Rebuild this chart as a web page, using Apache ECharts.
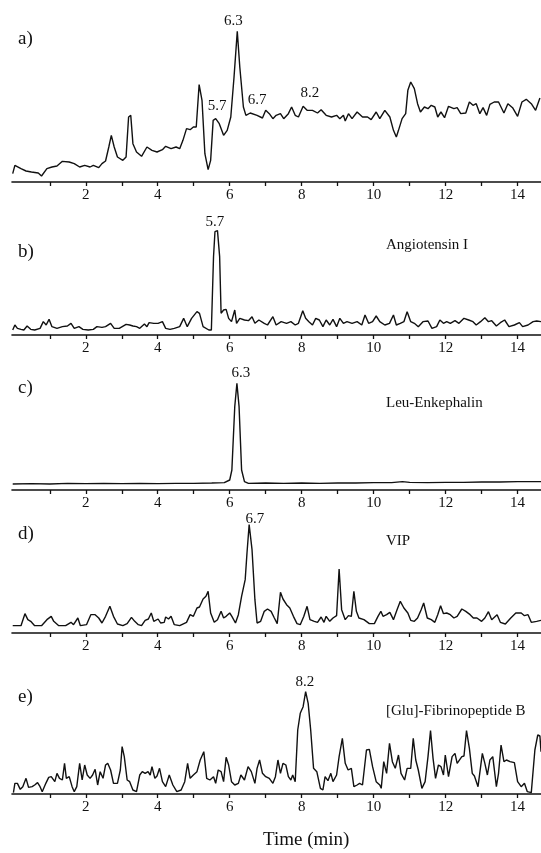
<!DOCTYPE html>
<html>
<head>
<meta charset="utf-8">
<script src="https://cdn.jsdelivr.net/npm/echarts@6/dist/echarts.min.js"></script>
<style>
html,body{margin:0;padding:0;background:#fff;}
#chart{width:541px;height:853px;}
</style>
</head>
<body>
<div id="chart"></div>
<script>
// Time (min) / intensity (arbitrary units) pairs
const panelA = [[-0.03,25],[0.03,50],[0.20,40],[0.34,33],[0.49,30],[0.68,27],[0.77,18],[0.92,40],[1.06,45],[1.20,48],[1.35,62],[1.54,60],[1.68,55],[1.83,45],[1.97,50],[2.12,45],[2.21,50],[2.36,43],[2.45,55],[2.55,63],[2.64,105],[2.71,140],[2.79,105],[2.88,75],[3.03,65],[3.12,75],[3.19,195],[3.25,200],[3.31,115],[3.41,90],[3.55,77],[3.70,105],[3.84,95],[3.98,90],[4.13,97],[4.22,107],[4.37,100],[4.51,105],[4.61,100],[4.70,125],[4.80,160],[4.90,157],[4.99,165],[5.07,165],[5.15,292],[5.23,245],[5.31,85],[5.40,37],[5.47,65],[5.54,185],[5.61,190],[5.71,175],[5.83,140],[5.93,155],[6.03,195],[6.12,315],[6.21,452],[6.28,345],[6.38,225],[6.45,200],[6.57,207],[6.76,200],[6.91,192],[7.00,215],[7.10,205],[7.20,190],[7.29,200],[7.41,205],[7.50,190],[7.63,205],[7.72,225],[7.82,200],[7.91,195],[8.04,227],[8.15,215],[8.30,215],[8.44,207],[8.54,217],[8.68,200],[8.83,195],[8.97,200],[9.06,190],[9.16,200],[9.21,183],[9.30,205],[9.40,190],[9.54,210],[9.69,195],[9.83,195],[9.93,187],[10.07,210],[10.17,190],[10.31,215],[10.45,195],[10.55,155],[10.63,135],[10.69,155],[10.79,190],[10.89,205],[10.95,275],[11.03,300],[11.13,280],[11.22,235],[11.30,210],[11.41,225],[11.51,220],[11.60,230],[11.70,225],[11.78,195],[11.87,210],[11.97,193],[12.08,227],[12.23,220],[12.32,223],[12.42,205],[12.56,207],[12.66,240],[12.76,230],[12.85,235],[12.95,205],[13.04,223],[13.14,200],[13.23,233],[13.35,240],[13.47,240],[13.62,207],[13.73,235],[13.86,223],[14.00,197],[14.12,240],[14.24,248],[14.38,235],[14.50,215],[14.62,252]];

const panelB = [[-0.03,15],[0.03,30],[0.10,20],[0.20,17],[0.28,15],[0.37,27],[0.47,17],[0.58,15],[0.73,20],[0.82,40],[0.90,30],[0.98,47],[1.06,25],[1.20,20],[1.35,25],[1.49,27],[1.59,35],[1.68,20],[1.81,25],[1.92,17],[2.07,15],[2.21,17],[2.31,25],[2.45,23],[2.55,25],[2.69,35],[2.79,20],[2.93,20],[3.12,32],[3.22,30],[3.31,27],[3.41,25],[3.50,20],[3.63,33],[3.70,25],[3.76,37],[3.89,35],[4.01,35],[4.13,40],[4.22,20],[4.34,17],[4.46,20],[4.61,25],[4.72,50],[4.82,25],[4.94,50],[5.09,70],[5.16,65],[5.26,25],[5.42,15],[5.49,15],[5.55,235],[5.59,310],[5.66,313],[5.72,235],[5.76,65],[5.83,75],[5.90,77],[5.97,50],[6.05,40],[6.14,75],[6.19,35],[6.28,50],[6.41,45],[6.52,43],[6.62,55],[6.70,35],[6.81,45],[6.96,35],[7.05,30],[7.20,55],[7.29,30],[7.43,40],[7.58,35],[7.70,40],[7.82,30],[7.91,35],[8.03,73],[8.11,50],[8.20,40],[8.30,30],[8.39,50],[8.49,45],[8.59,25],[8.68,45],[8.78,30],[8.87,47],[8.97,25],[9.06,50],[9.16,35],[9.26,40],[9.40,35],[9.54,40],[9.67,30],[9.76,60],[9.86,35],[9.97,40],[10.07,57],[10.17,40],[10.31,30],[10.44,35],[10.55,60],[10.63,30],[10.74,35],[10.84,40],[10.93,70],[11.03,40],[11.13,35],[11.24,25],[11.37,40],[11.51,42],[11.62,20],[11.75,25],[11.84,45],[11.94,35],[12.03,40],[12.13,35],[12.26,43],[12.37,35],[12.51,50],[12.64,45],[12.76,40],[12.85,30],[12.97,40],[13.09,52],[13.19,40],[13.28,43],[13.41,27],[13.52,37],[13.64,45],[13.76,25],[13.91,30],[14.05,37],[14.14,25],[14.29,30],[14.43,40],[14.53,42],[14.65,40]];

const panelC = [[-0.03,18],[0.5,19],[1.0,18],[1.5,20],[2.0,19],[2.5,20],[3.0,19],[3.5,20],[4.0,19],[4.5,20],[5.0,20],[5.5,21],[5.85,22],[6.00,30],[6.06,60],[6.14,250],[6.20,320],[6.26,250],[6.33,60],[6.41,25],[6.52,20],[7.0,21],[7.5,20],[8.0,21],[8.5,20],[9.0,21],[9.5,21],[10.0,22],[10.5,22],[10.8,25],[11.0,23],[11.5,22],[12.0,23],[12.5,23],[13.0,24],[13.5,24],[14.0,25],[14.65,25]];

const panelD = [[-0.03,22],[0.20,22],[0.31,58],[0.39,40],[0.47,35],[0.58,22],[0.77,22],[0.92,40],[1.04,50],[1.11,35],[1.25,22],[1.44,22],[1.59,32],[1.66,25],[1.78,45],[1.85,22],[2.02,25],[2.14,55],[2.26,55],[2.36,45],[2.45,30],[2.55,50],[2.67,80],[2.77,50],[2.88,27],[3.03,22],[3.15,28],[3.27,47],[3.36,35],[3.46,25],[3.55,22],[3.65,38],[3.74,42],[3.82,60],[3.89,35],[4.01,42],[4.08,30],[4.18,32],[4.22,48],[4.30,42],[4.37,50],[4.46,25],[4.61,22],[4.80,32],[4.90,55],[4.99,50],[5.09,75],[5.16,78],[5.26,102],[5.34,110],[5.40,125],[5.47,60],[5.57,32],[5.66,40],[5.76,65],[5.83,45],[5.90,50],[6.00,60],[6.06,50],[6.16,30],[6.24,55],[6.33,110],[6.43,160],[6.48,240],[6.54,325],[6.62,250],[6.70,100],[6.76,30],[6.86,35],[6.96,65],[7.05,72],[7.15,65],[7.24,45],[7.32,28],[7.41,122],[7.48,102],[7.58,85],[7.67,75],[7.77,50],[7.87,28],[7.96,25],[8.06,50],[8.15,80],[8.23,40],[8.35,35],[8.44,32],[8.54,48],[8.62,32],[8.68,50],[8.78,35],[8.87,45],[8.97,52],[9.04,192],[9.11,70],[9.21,40],[9.30,52],[9.38,50],[9.45,125],[9.52,65],[9.59,45],[9.73,40],[9.88,28],[10.02,28],[10.12,50],[10.20,65],[10.26,50],[10.36,55],[10.45,62],[10.55,40],[10.65,70],[10.74,95],[10.84,75],[10.95,60],[11.03,38],[11.13,35],[11.22,45],[11.32,70],[11.39,90],[11.49,45],[11.60,40],[11.70,32],[11.78,55],[11.86,82],[11.94,58],[12.03,60],[12.13,55],[12.23,45],[12.32,50],[12.45,72],[12.56,65],[12.68,55],[12.77,45],[12.87,45],[13.00,35],[13.09,45],[13.19,64],[13.28,40],[13.43,55],[13.52,32],[13.66,27],[13.81,45],[13.95,60],[14.10,60],[14.19,52],[14.29,55],[14.38,32],[14.53,35],[14.65,38]];

const panelE = [[-0.01,4],[0.03,32],[0.10,32],[0.18,14],[0.25,22],[0.34,47],[0.41,20],[0.51,22],[0.58,27],[0.66,34],[0.73,22],[0.79,7],[0.89,32],[0.97,50],[1.04,52],[1.14,37],[1.20,62],[1.27,47],[1.35,42],[1.41,92],[1.46,47],[1.54,52],[1.62,22],[1.68,7],[1.75,22],[1.83,92],[1.90,42],[1.97,87],[2.04,57],[2.12,47],[2.19,57],[2.26,74],[2.33,27],[2.40,67],[2.48,47],[2.55,87],[2.61,92],[2.69,72],[2.77,32],[2.88,32],[2.96,72],[3.01,142],[3.07,112],[3.15,42],[3.22,37],[3.31,12],[3.41,7],[3.50,57],[3.57,67],[3.65,62],[3.73,67],[3.79,57],[3.84,82],[3.92,47],[3.98,54],[4.05,77],[4.13,37],[4.22,22],[4.32,57],[4.42,27],[4.53,7],[4.65,12],[4.75,37],[4.83,92],[4.90,47],[4.99,57],[5.09,67],[5.18,102],[5.28,127],[5.36,47],[5.45,42],[5.55,52],[5.61,32],[5.68,72],[5.76,67],[5.83,37],[5.90,110],[5.97,87],[6.05,37],[6.14,27],[6.24,32],[6.31,57],[6.41,42],[6.51,82],[6.60,67],[6.70,32],[6.76,77],[6.83,102],[6.91,62],[7.00,52],[7.10,47],[7.20,32],[7.27,52],[7.34,102],[7.41,62],[7.48,92],[7.56,87],[7.63,52],[7.70,42],[7.75,57],[7.82,37],[7.89,192],[7.96,242],[8.04,262],[8.11,307],[8.18,272],[8.25,192],[8.33,77],[8.42,67],[8.52,17],[8.59,12],[8.65,52],[8.73,40],[8.81,62],[8.87,37],[8.97,57],[9.04,112],[9.13,167],[9.21,92],[9.29,72],[9.38,77],[9.45,22],[9.54,27],[9.61,32],[9.69,27],[9.80,132],[9.88,134],[9.97,82],[10.07,37],[10.17,27],[10.21,17],[10.28,97],[10.36,62],[10.44,152],[10.52,97],[10.60,77],[10.69,117],[10.76,62],[10.86,42],[10.93,77],[11.03,77],[11.10,167],[11.17,102],[11.24,72],[11.34,17],[11.43,37],[11.51,112],[11.58,190],[11.65,107],[11.72,47],[11.80,87],[11.87,82],[11.94,57],[11.99,117],[12.08,52],[12.18,112],[12.26,122],[12.32,92],[12.37,87],[12.45,112],[12.51,114],[12.58,190],[12.66,137],[12.74,62],[12.80,54],[12.90,22],[12.95,22],[13.02,122],[13.09,92],[13.16,57],[13.23,102],[13.31,112],[13.41,22],[13.47,62],[13.54,147],[13.62,97],[13.69,102],[13.79,97],[13.91,94],[14.00,37],[14.10,22],[14.19,32],[14.27,7],[14.38,4],[14.48,132],[14.56,177],[14.62,174],[14.65,127]];

const tickValues = [1,2,3,4,5,6,7,8,9,10,11,12,13,14];
const tickLabels = [2,4,6,8,10,12,14];

const panelLetters = ['a)','b)','c)','d)','e)'];
const compoundNames = ['', 'Angiotensin I', 'Leu-Enkephalin', 'VIP', '[Glu]-Fibrinopeptide B'];
// peak annotations: [time, intensity, text]
const annotA = [[6.10,483,'6.3'],[5.65,228,'5.7'],[6.76,246,'6.7'],[8.23,267,'8.2']];
const annotB = [[5.59,339,'5.7']];
const annotC = [[6.31,351,'6.3']];
const annotD = [[6.70,342,'6.7']];
const annotE = [[8.09,336,'8.2']];
const xTitle = 'Time (min)';

const series = [panelA, panelB, panelC, panelD, panelE];
const annots = [annotA, annotB, annotC, annotD, annotE];

// layout (pixels)
const gridTop = [5, 195, 350, 500, 650];
const axisY = [182, 335, 490, 633, 794];
const letterY = [41, 254, 390, 536, 699];
const nameY = [0, 247, 405, 543, 713];
const SERIF = '"Liberation Serif","Times New Roman",serif';
const INK = '#111';

const grids = [], xAxes = [], yAxes = [], ser = [], graphics = [];
for (let i = 0; i < 5; i++) {
  const h = axisY[i] - gridTop[i];
  grids.push({left: 12, right: 0, top: gridTop[i], height: h, containLabel: false, outerBoundsMode: 'none'});
  xAxes.push({
    type: 'value', gridIndex: i, min: -0.05, max: 14.65,
    axisLine: {show: true, onZero: false, lineStyle: {color: INK, width: 1.6}},
    axisTick: {show: true, length: 4, lineStyle: {color: INK, width: 1.3}, customValues: tickValues},
    axisLabel: {show: true, customValues: tickLabels, color: INK, fontFamily: SERIF, fontSize: 15, margin: 6,
      hideOverlap: false},
    splitLine: {show: false}
  });
  yAxes.push({type: 'value', gridIndex: i, min: 0, max: h * 3, show: false, splitLine: {show: false}});
  ser.push({
    type: 'line', xAxisIndex: i, yAxisIndex: i, data: series[i],
    symbol: 'none', smooth: false, silent: true,
    lineStyle: {color: INK, width: 1.4},
    markPoint: {
      symbol: 'circle', symbolSize: 1, silent: true,
      itemStyle: {color: 'rgba(0,0,0,0)'},
      label: {show: true, position: 'inside', color: INK, fontFamily: SERIF, fontSize: 15,
        formatter: p => p.data.txt},
      data: annots[i].map(a => ({coord: [a[0], a[1]], txt: a[2]}))
    }
  });
  graphics.push({type: 'text', left: 18, top: letterY[i] - 11,
    style: {text: panelLetters[i], fill: INK, font: '19px ' + SERIF}});
  if (compoundNames[i]) {
    graphics.push({type: 'text', left: 386, top: nameY[i] - 9,
      style: {text: compoundNames[i], fill: INK, font: '15px ' + SERIF}});
  }
}
graphics.push({type: 'text', left: 263, top: 831, style: {text: xTitle, fill: INK, font: '19px ' + SERIF}});

const chart = echarts.init(document.getElementById('chart'), null, {renderer: 'canvas'});
chart.setOption({
  animation: false,
  backgroundColor: '#fff',
  grid: grids, xAxis: xAxes, yAxis: yAxes, series: ser, graphic: graphics
});
</script>
</body>
</html>
